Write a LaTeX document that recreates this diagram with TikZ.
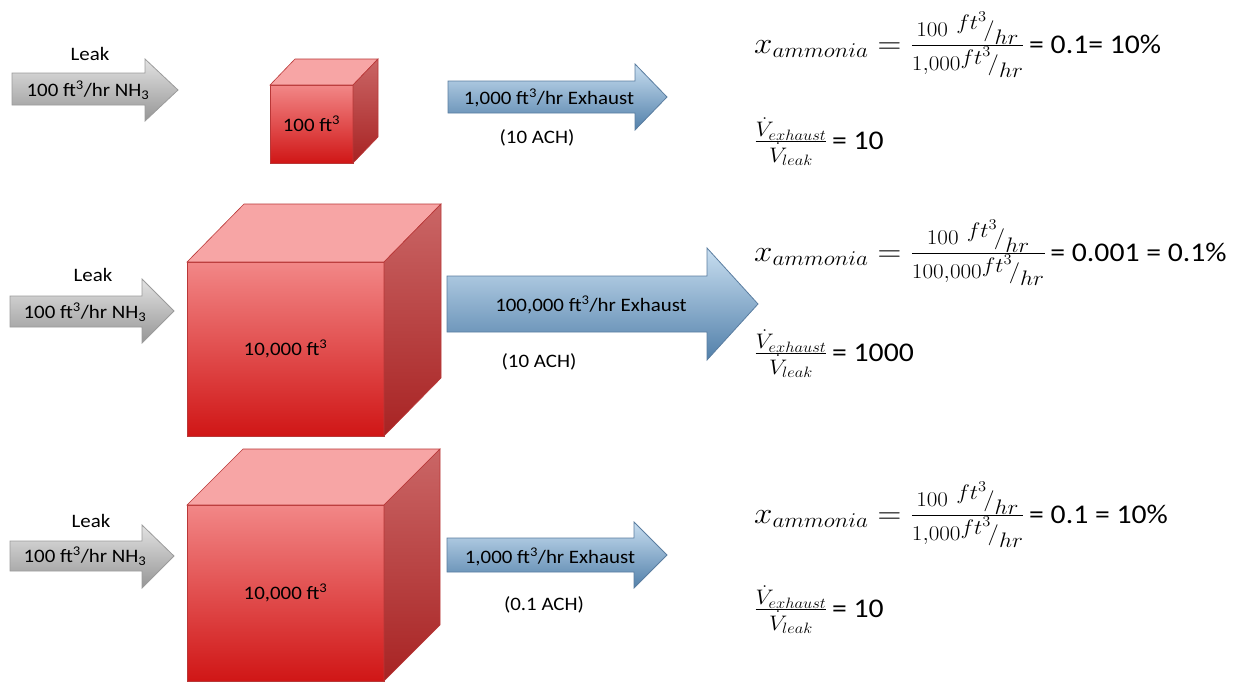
\RequirePackage{fix-cm}
\documentclass[tikz,border=0pt]{standalone}
\usepackage{amsmath}
\usepackage[no-math]{fontspec}
\setmainfont{Carlito}[FakeStretch=1.1]
\usepackage{graphicx}
\usetikzlibrary{positioning}

\definecolor{leaktop}{RGB}{226,226,226}
\definecolor{leakbot}{RGB}{150,150,150}
\definecolor{leakedge}{RGB}{155,155,155}
\definecolor{exhtop}{RGB}{200,222,240}
\definecolor{exhbot}{RGB}{82,128,170}
\definecolor{exhedge}{RGB}{90,125,160}
\definecolor{fronttop}{RGB}{242,135,135}
\definecolor{frontbot}{RGB}{208,22,22}
\definecolor{sidetop}{RGB}{202,102,102}
\definecolor{sidebot}{RGB}{168,35,35}
\definecolor{toppink}{RGB}{247,165,165}
\definecolor{roomedge}{RGB}{185,55,55}

\newcommand\wide[1]{\scalebox{1.1}[1]{\fontsize{30}{34}\selectfont#1}}

\tikzset{
  leakarrow/.style={draw=leakedge,line width=0.8pt,top color=leaktop,bottom color=leakbot},
  exharrow/.style={draw=exhedge,line width=0.8pt,top color=exhtop,bottom color=exhbot},
  roomfront/.style={draw=roomedge,line width=0.6pt,top color=fronttop,bottom color=frontbot,
                    outer sep=0pt,inner sep=0pt,font=\fontsize{19}{22}\selectfont},
  roomtop/.style={draw=roomedge,line width=0.6pt,fill=toppink},
  roomside/.style={draw=roomedge,line width=0.6pt,top color=sidetop,bottom color=sidebot},
  lbl/.style={inner sep=0pt,font=\fontsize{19}{22}\selectfont},
  eqn/.style={inner sep=0pt,anchor=base west,font=\fontsize{27}{32}\selectfont},
}

\begin{document}
\begin{tikzpicture}[x=1pt,y=-1pt]
  \useasboundingbox (0,0) rectangle (1233,681);

  % leak arrows
  \path[leakarrow] (12,73) -- (145,73) -- (145,59) -- (178,90) -- (145,121) -- (145,105) -- (12,105) -- cycle;
  \path[leakarrow] (10,296) -- (142,296) -- (142,279) -- (174,311) -- (142,343) -- (142,327) -- (10,327) -- cycle;
  \path[leakarrow] (10,541) -- (142,541) -- (142,525) -- (174,556) -- (142,588) -- (142,571) -- (10,571) -- cycle;
  \node[lbl] (leakA) at (88,90) {100 ft\textsuperscript{3}/hr NH\textsubscript{3}};
  \node[lbl] (leakB) at (85,312) {100 ft\textsuperscript{3}/hr NH\textsubscript{3}};
  \node[lbl] (leakC) at (85,556) {100 ft\textsuperscript{3}/hr NH\textsubscript{3}};
  \node[lbl] (tagA) at (90,54) {Leak};
  \node[lbl] (tagB) at (93,275) {Leak};
  \node[lbl] (tagC) at (91,521) {Leak};

  % rooms
  \node[roomfront,minimum width=83pt,minimum height=78pt] (roomA) at (311.5,124) {100 ft\textsuperscript{3}};
  \path[roomtop] (roomA.north west) -- ++(25,-26) -- ++(83,0) -- (roomA.north east) -- cycle;
  \path[roomside] (roomA.north east) -- ++(25,-26) -- ++(0,78) -- (roomA.south east) -- cycle;

  \node[roomfront,minimum width=197pt,minimum height=174pt] (roomB) at (285.5,349) {10,000 ft\textsuperscript{3}};
  \path[roomtop] (roomB.north west) -- ++(57,-58) -- ++(197,0) -- (roomB.north east) -- cycle;
  \path[roomside] (roomB.north east) -- ++(57,-58) -- ++(0,174) -- (roomB.south east) -- cycle;

  \node[roomfront,minimum width=197pt,minimum height=176pt] (roomC) at (285.5,593) {10,000 ft\textsuperscript{3}};
  \path[roomtop] (roomC.north west) -- ++(56,-56) -- ++(197,0) -- (roomC.north east) -- cycle;
  \path[roomside] (roomC.north east) -- ++(56,-56) -- ++(0,176) -- (roomC.south east) -- cycle;

  % exhaust arrows
  \path[exharrow] (448,81) -- (635,81) -- (635,64) -- (667,97) -- (635,130) -- (635,113) -- (448,113) -- cycle;
  \path[exharrow] (447,276) -- (707,276) -- (707,248) -- (758,304) -- (707,360) -- (707,332) -- (447,332) -- cycle;
  \path[exharrow] (447,538) -- (634,538) -- (634,522) -- (667,555) -- (634,588) -- (634,572) -- (447,572) -- cycle;
  \node[lbl] (exhA) at (549,98) {1,000 ft\textsuperscript{3}/hr Exhaust};
  \node[lbl] (exhB) at (591,305) {100,000 ft\textsuperscript{3}/hr Exhaust};
  \node[lbl] (exhC) at (550,557) {1,000 ft\textsuperscript{3}/hr Exhaust};
  \node[lbl] (achA) at (537,138) {(10 ACH)};
  \node[lbl] (achB) at (539,362) {(10 ACH)};
  \node[lbl] (achC) at (544,605) {(0.1 ACH)};

  % mole fractions and flow ratios
  \node[eqn] (xA) at (754,53) {\wide{$x_{ammonia} = \tfrac{100\ {}^{\scriptstyle ft^3}\!/_{\scriptstyle hr}}{1{,}000^{\scriptstyle ft^3}\!/_{\scriptstyle hr}}$}\,= 0.1= 10\%};
  \node[eqn] (rA) at (754,149) {\wide{$\tfrac{\dot{V}_{exhaust}}{\dot{V}_{leak}}$}\,= 10};
  \node[eqn] (xB) at (754,261) {\wide{$x_{ammonia} = \tfrac{100\ {}^{\scriptstyle ft^3}\!/_{\scriptstyle hr}}{100{,}000^{\scriptstyle ft^3}\!/_{\scriptstyle hr}}$}\,= 0.001 = 0.1\%};
  \node[eqn] (rB) at (754,361) {\wide{$\tfrac{\dot{V}_{exhaust}}{\dot{V}_{leak}}$}\,= 1000};
  \node[eqn] (xC) at (754,523) {\wide{$x_{ammonia} = \tfrac{100\ {}^{\scriptstyle ft^3}\!/_{\scriptstyle hr}}{1{,}000^{\scriptstyle ft^3}\!/_{\scriptstyle hr}}$}\,= 0.1 = 10\%};
  \node[eqn] (rC) at (754,617) {\wide{$\tfrac{\dot{V}_{exhaust}}{\dot{V}_{leak}}$}\,= 10};
\end{tikzpicture}
\end{document}
